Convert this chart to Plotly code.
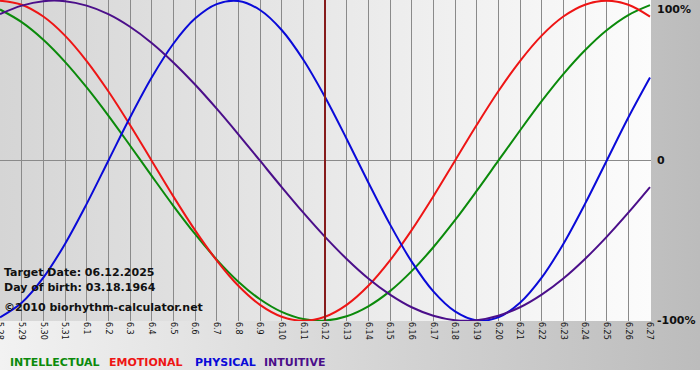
import plotly.graph_objects as go

# ---- data ----
days = ["5.28", "5.29", "5.30", "5.31", "6.1", "6.2", "6.3", "6.4", "6.5", "6.6",
        "6.7", "6.8", "6.9", "6.10", "6.11", "6.12", "6.13", "6.14", "6.15", "6.16",
        "6.17", "6.18", "6.19", "6.20", "6.21", "6.22", "6.23", "6.24", "6.25", "6.26", "6.27"]

intellectual = [94.5, 86.6, 75.6, 61.8, 45.8, 28.2, 9.5, -9.5, -28.2, -45.8,
                -61.8, -75.6, -86.6, -94.5, -99.0, -99.9, -97.2, -91.0, -81.5, -69.0,
                -54.1, -37.2, -18.9, 0.0, 18.9, 37.2, 54.1, 69.0, 81.5, 91.0, 97.2]
emotional = [100.0, 97.5, 90.1, 78.2, 62.3, 43.4, 22.3, 0.0, -22.3, -43.4,
             -62.3, -78.2, -90.1, -97.5, -100.0, -97.5, -90.1, -78.2, -62.3, -43.4,
             -22.3, 0.0, 22.3, 43.4, 62.3, 78.2, 90.1, 97.5, 100.0, 97.5, 90.1]
physical = [-97.9, -88.8, -73.1, -52.0, -27.0, 0.0, 27.0, 52.0, 73.1, 88.8,
            97.9, 99.8, 94.2, 81.7, 63.1, 39.8, 13.6, -13.6, -39.8, -63.1,
            -81.7, -94.2, -99.8, -97.9, -88.8, -73.1, -52.0, -27.0, 0.0, 27.0, 52.0]
intuitive = [91.6, 96.9, 99.7, 99.7, 96.9, 91.6, 83.7, 73.6, 61.4, 47.6,
             32.5, 16.5, 0.0, -16.5, -32.5, -47.6, -61.4, -73.6, -83.7, -91.6,
             -96.9, -99.7, -99.7, -96.9, -91.6, -83.7, -73.6, -61.4, -47.6, -32.5, -16.5]

series_names = ["INTELLECTUAL", "EMOTIONAL", "PHYSICAL", "INTUITIVE"]
series_values = [intellectual, emotional, physical, intuitive]
series_colors = ["#0b8a0b", "#ee1515", "#0a0ad8", "#4b0f8a"]

target_label = "6.12"
target_text = "Target Date: 06.12.2025"
birth_text = "Day of birth: 03.18.1964"
copyright_text = "\u00a92010 biorhythm-calculator.net"
y_labels = ["100%", "0", "-100%"]
y_label_vals = [100, 0, -100]

# ---- layout geometry (pixels) ----
W, H = 700, 380
plot_w, plot_h = 651, 321
band_h = 370
FONT = "DejaVu Sans"

xs = list(range(len(days)))
target_idx = days.index(target_label)

fig = go.Figure()

# background (full-figure axes, pixel units)
fig.add_trace(go.Scatter(
    x=[0, W, W, 0, 0], y=[0, 0, band_h, band_h, 0], xaxis="x", yaxis="y",
    mode="none", fill="toself", hoverinfo="skip", showlegend=False,
    fillgradient=dict(type="horizontal", colorscale=[[0, "#f2f2f2"], [1, "#bcbcbc"]])))
fig.add_trace(go.Scatter(
    x=[0, plot_w, plot_w, 0, 0], y=[0, 0, plot_h, plot_h, 0], xaxis="x", yaxis="y",
    mode="none", fill="toself", hoverinfo="skip", showlegend=False,
    fillgradient=dict(type="horizontal", colorscale=[[0, "#d5d5d5"], [1, "#fcfcfc"]])))

# biorhythm curves
for name, vals, col in zip(series_names, series_values, series_colors):
    fig.add_trace(go.Scatter(
        x=xs, y=vals, xaxis="x2", yaxis="y2", mode="lines", name=name,
        line=dict(color=col, width=2, shape="spline"), showlegend=False))

# target day line
fig.add_shape(type="line", xref="x2", yref="y2 domain", x0=target_idx, x1=target_idx,
              y0=0, y1=1, line=dict(color="#861c1c", width=2))

anns = []
for txt, yy in zip([target_text, birth_text], [272, 287]):
    anns.append(dict(xref="x", yref="y", x=2, y=yy, text="<b>" + txt + "</b>",
                     showarrow=False, xanchor="left", yanchor="middle",
                     font=dict(family=FONT, size=11, color="#111111")))
anns.append(dict(xref="x", yref="y", x=2, y=307, text="<b>" + copyright_text + "</b>",
                 showarrow=False, xanchor="left", yanchor="middle",
                 font=dict(family=FONT, size=11, color="#111111")))

legend_x = [8, 107, 193, 262]
for name, col, lx in zip(series_names, series_colors, legend_x):
    anns.append(dict(xref="x", yref="y", x=lx, y=362, text="<b>" + name + "</b>",
                     showarrow=False, xanchor="left", yanchor="middle",
                     font=dict(family=FONT, size=11, color=col)))

for lab, v in zip(y_labels, y_label_vals):
    anns.append(dict(xref="x2 domain", yref="y2", x=1, xshift=4, y=v, text="<b>" + lab + "</b>",
                     showarrow=False, xanchor="left",
                     yanchor="top" if v == 100 else "middle",
                     font=dict(family=FONT, size=11, color="#111111")))

fig.update_layout(
    width=W, height=H, margin=dict(l=0, r=0, t=0, b=0, pad=0, autoexpand=False),
    paper_bgcolor="white", plot_bgcolor="rgba(0,0,0,0)",
    showlegend=False, annotations=anns,
    xaxis=dict(domain=[0, 1], range=[0, W], visible=False, fixedrange=True),
    yaxis=dict(domain=[0, 1], range=[H, 0], visible=False, fixedrange=True),
    xaxis2=dict(domain=[0, plot_w / W], anchor="y2", range=[0, 30 * plot_w / 650],
                tickvals=xs, ticktext=days, tickangle=90, ticks="",
                ticklabeloverflow="allow", automargin=False,
                showgrid=True, gridcolor="#8a8a8a", gridwidth=1,
                zeroline=False, showline=False,
                tickfont=dict(family=FONT, size=8, color="#111111")),
    yaxis2=dict(domain=[1 - plot_h / H, 1], anchor="x2", range=[-100.19, 100.44],
                tickvals=[-100, 0], showticklabels=False, ticks="", automargin=False,
                showgrid=True, gridcolor="#8a8a8a", gridwidth=1,
                zeroline=False, showline=False),
)

fig.write_html("out.html", config={"displayModeBar": False},
               post_script="document.body.style.margin='0';document.body.style.padding='0';")
